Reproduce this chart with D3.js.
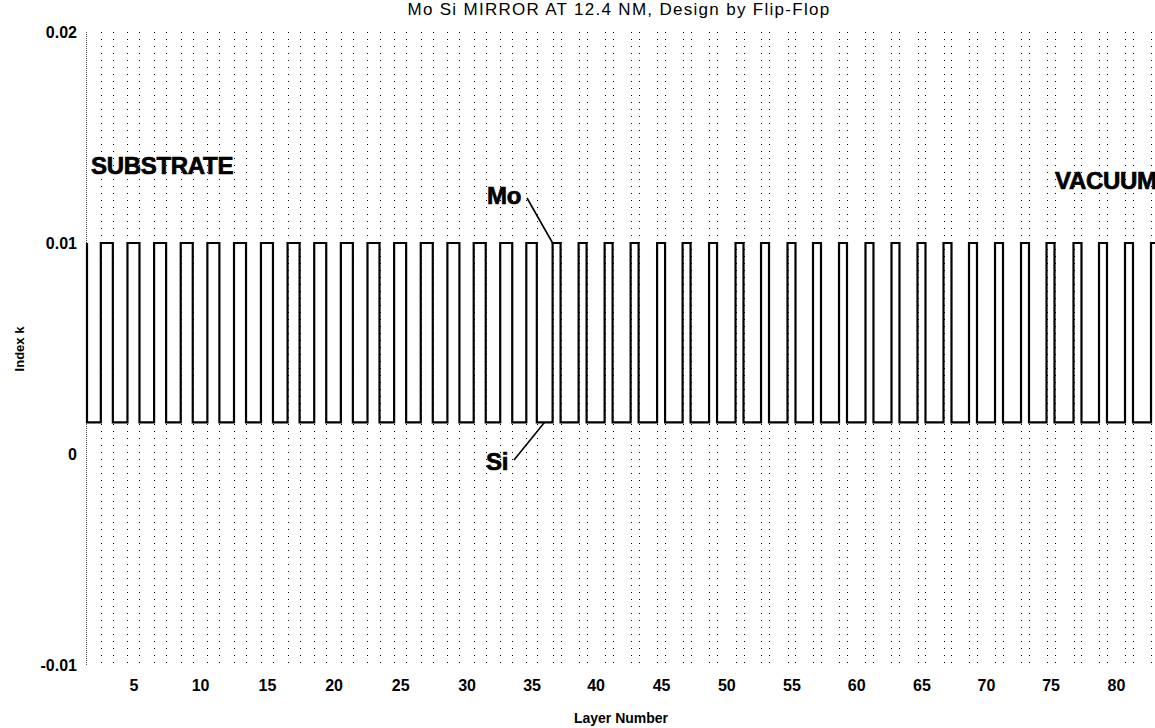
<!DOCTYPE html>
<html>
<head>
<meta charset="utf-8">
<script src="https://cdn.jsdelivr.net/npm/d3@7/dist/d3.min.js"></script>
<style>
body { margin: 0; background: #fff; }
svg { display: block; font-family: "Liberation Sans", Arial, sans-serif; }
.tick text { font-family: "Liberation Sans Narrow", "Liberation Sans", Arial, sans-serif; font-weight: bold; font-size: 16px; }
</style>
</head>
<body>
<div id="chart"></div>
<script>
// layer thicknesses in nm
// odd layers (1, 3, ... 83) are Mo, even layers (2, 4, ... 82) are Si
var moThick = [
    2.86, 2.86, 2.86, 2.86, 2.86, 2.86, 2.86, 2.86, 2.86, 2.86,
    2.86, 2.86, 2.86, 2.86, 2.86, 2.86, 2.86, 2.50, 1.90, 1.90,
    1.90, 1.90, 1.90, 1.90, 1.90, 1.90, 1.90, 1.90, 1.90, 1.90,
    1.90, 1.90, 1.90, 1.90, 1.90, 1.90, 1.90, 1.90, 1.90, 1.90,
    1.90, 1.90
];
var siThick = [
    3.29, 3.48, 3.48, 3.48, 3.48, 3.48, 3.55, 3.48, 3.48, 3.48,
    3.48, 3.48, 3.48, 3.48, 3.40, 3.45, 3.35, 3.76, 4.29, 4.29,
    4.29, 4.40, 4.17, 4.40, 4.40, 4.17, 4.40, 4.17, 4.29, 4.40,
    4.29, 4.29, 4.29, 4.17, 4.29, 4.29, 4.17, 4.52, 4.17, 4.29,
    4.29
];
var moK = 0.0100;
var siK = 0.0015;

var layerTicks = [5, 10, 15, 20, 25, 30, 35, 40, 45, 50, 55, 60, 65, 70, 75, 80];
var kTicks = [-0.01, 0, 0.01, 0.02];
var kTickLabels = ["-0.01", "0", "0.01", "0.02"];

(function() {

    var width = 1155, height = 728;
    var mLeft = 87, mRight = 1159, mTop = 32, mBottom = 665;

    // stack the layers
    var layers = [], pos = 0;
    for (var n = 1; n <= moThick.length + siThick.length; n++) {
        var isMo = n % 2 == 1;
        var t = isMo ? moThick[(n - 1) / 2] : siThick[n / 2 - 1];
        layers.push({ n: n, mat: isMo ? "Mo" : "Si", k: isMo ? moK : siK, x0: pos, x1: pos + t });
        pos += t;
    }
    var byNum = function(n) { return layers[n - 1]; };

    var x = d3.scaleLinear()
        .domain([layers[0].x1, layers[layers.length - 1].x1])
        .range([mLeft, mRight]);

    var y = d3.scaleLinear()
        .domain([-0.01, 0.02])
        .range([mBottom, mTop]);

    var svg = d3.select("#chart").append("svg")
        .attr("width", width)
        .attr("height", height);

    svg.append("clipPath").attr("id", "plot")
        .append("rect")
        .attr("x", mLeft - 2).attr("y", mTop - 2)
        .attr("width", mRight - mLeft + 4).attr("height", mBottom - mTop + 4);

    // dotted grid at every layer boundary
    svg.append("g")
        .attr("shape-rendering", "crispEdges")
        .selectAll("line")
        .data(layers.slice(1))
        .enter().append("line")
            .attr("x1", function(d) { return Math.round(x(d.x1)) + 0.5; })
            .attr("x2", function(d) { return Math.round(x(d.x1)) + 0.5; })
            .attr("y1", mTop)
            .attr("y2", mBottom)
            .attr("stroke", "#000")
            .attr("stroke-width", 1)
            .attr("stroke-dasharray", "1,6");

    // left axis line, densely dotted
    svg.append("line")
        .attr("shape-rendering", "crispEdges")
        .attr("x1", mLeft - 0.5).attr("x2", mLeft - 0.5)
        .attr("y1", mTop).attr("y2", mBottom)
        .attr("stroke", "#555")
        .attr("stroke-dasharray", "1,1");

    // index profile as a step line
    var pts = layers.map(function(d) { return [Math.max(d.x0, x.domain()[0]), d.k]; });
    pts.push([layers[layers.length - 1].x1, layers[layers.length - 1].k]);

    var line = d3.line()
        .x(function(d) { return x(d[0]); })
        .y(function(d) { return y(d[1]); })
        .curve(d3.curveStepAfter);

    svg.append("path")
        .datum(pts)
        .attr("clip-path", "url(#plot)")
        .attr("d", line)
        .attr("fill", "none")
        .attr("stroke", "#000")
        .attr("stroke-width", 2.2);

    // axes: labels only, no tick marks
    var xAxis = d3.axisBottom(x)
        .tickValues(layerTicks.map(function(n) { var d = byNum(n); return (d.x0 + d.x1) / 2; }))
        .tickFormat(function(v, i) { return layerTicks[i]; })
        .tickSize(0)
        .tickPadding(15);

    svg.append("g")
        .attr("transform", "translate(0," + mBottom + ")")
        .call(xAxis)
        .call(function(g) { g.select(".domain").remove(); });

    var yAxis = d3.axisLeft(y)
        .tickValues(kTicks)
        .tickFormat(function(v, i) { return kTickLabels[i]; })
        .tickSize(0)
        .tickPadding(10);

    svg.append("g")
        .attr("transform", "translate(" + mLeft + ",0)")
        .call(yAxis)
        .call(function(g) { g.select(".domain").remove(); });

    svg.selectAll(".tick text").attr("fill", "#000");

    // titles
    svg.append("text")
        .attr("x", 619).attr("y", 15)
        .attr("text-anchor", "middle")
        .attr("font-size", 17)
        .attr("letter-spacing", 1.3)
        .text("Mo Si MIRROR AT 12.4 NM, Design by Flip-Flop");

    svg.append("text")
        .attr("x", 621).attr("y", 723)
        .attr("text-anchor", "middle")
        .attr("font-size", 14)
        .attr("font-weight", "bold")
        .text("Layer Number");

    svg.append("text")
        .attr("transform", "translate(24,349) rotate(-90)")
        .attr("text-anchor", "middle")
        .attr("font-size", 13)
        .attr("font-weight", "bold")
        .text("Index k");

    // annotations
    var big = function(txt, tx, ty) {
        return svg.append("text")
            .attr("x", tx).attr("y", ty)
            .attr("font-size", 24)
            .attr("font-weight", "bold")
            .attr("letter-spacing", -0.3)
            .attr("stroke", "#000")
            .attr("stroke-width", 0.7)
            .text(txt);
    };
    big("SUBSTRATE", 91, 174);
    big("VACUUM", 1055, 189);

    var moAt = byNum(37);
    big("Mo", 487, 204);
    svg.append("line")
        .attr("x1", 527).attr("y1", 198)
        .attr("x2", x(moAt.x0)).attr("y2", y(moK))
        .attr("stroke", "#000").attr("stroke-width", 1.6);

    big("Si", 486, 470);
    svg.append("line")
        .attr("x1", 514).attr("y1", 460)
        .attr("x2", x(moAt.x0) - 8).attr("y2", y(siK))
        .attr("stroke", "#000").attr("stroke-width", 1.6);

})();
</script>
</body>
</html>
